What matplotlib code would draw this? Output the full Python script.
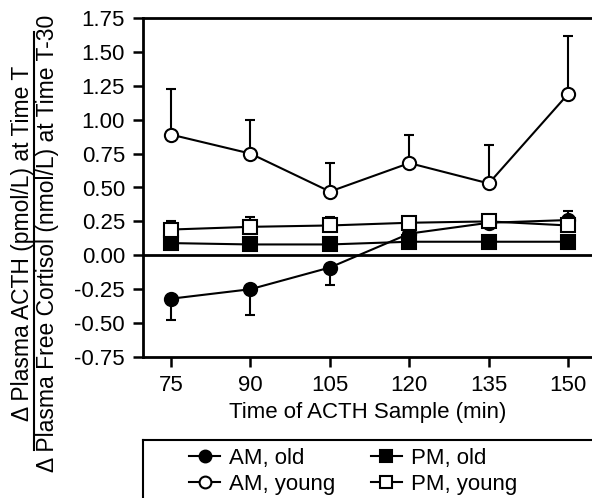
import matplotlib
matplotlib.use('Agg')
import matplotlib.pyplot as plt
from matplotlib.lines import Line2D

plt.rcParams['font.family'] = ['Liberation Sans', 'DejaVu Sans']
plt.rcParams['font.size'] = 16

# ── Data ──────────────────────────────────────────────────────
times = [75, 90, 105, 120, 135, 150]

am_old       = [-0.32, -0.25, -0.09, 0.16, 0.24, 0.26]
am_old_lo    = [0.16, 0.19, 0.13, 0.00, 0.00, 0.00]
am_old_hi    = [0.00, 0.00, 0.00, 0.03, 0.03, 0.07]

am_young     = [0.89, 0.75, 0.47, 0.68, 0.53, 1.19]
am_young_hi  = [0.34, 0.25, 0.21, 0.21, 0.28, 0.43]

pm_old       = [0.09, 0.08, 0.08, 0.10, 0.10, 0.10]
pm_old_hi    = [0.02, 0.02, 0.02, 0.02, 0.02, 0.02]

pm_young     = [0.19, 0.21, 0.22, 0.24, 0.25, 0.22]
pm_young_hi  = [0.06, 0.07, 0.06, 0.04, 0.02, 0.04]

yticks = [1.75, 1.50, 1.25, 1.00, 0.75, 0.50, 0.25, 0.00, -0.25, -0.50, -0.75]

W, H = 592, 498
fig = plt.figure(figsize=(W / 100, H / 100), dpi=100)
ax = fig.add_axes([143 / W, (H - 357) / H, 1 - 143 / W, (357 - 18) / H])

zero = [0] * len(times)
common = dict(color='black', lw=1.5, ms=9.5, mew=1.5, capsize=3.5,
              capthick=1.5, elinewidth=1.5)

ax.errorbar(times, am_old, yerr=[am_old_lo, am_old_hi], fmt='-o',
            mfc='black', zorder=3, **common)
ax.errorbar(times, am_young, yerr=[zero, am_young_hi], fmt='-o',
            mfc='white', zorder=3, **common)
ax.errorbar(times, pm_old, yerr=[zero, pm_old_hi], fmt='-s',
            mfc='black', zorder=4, **common)
ax.errorbar(times, pm_young, yerr=[zero, pm_young_hi], fmt='-s',
            mfc='white', zorder=5, **common)

ax.axhline(0, color='black', lw=2, zorder=2)

ax.set_xlim(69.7, 154.5)
ax.set_ylim(-0.75, 1.75)
ax.set_xticks(times)
ax.set_yticks(yticks)
ax.set_yticklabels([f'{v:.2f}' for v in yticks])
ax.spines['right'].set_visible(False)
for s in ['left', 'bottom', 'top']:
    ax.spines[s].set_linewidth(2)
ax.tick_params(direction='out', length=7, width=1.8, pad=6)
ax.set_xlabel('Time of ACTH Sample (min)', labelpad=4)

# y label as a fraction
fig.text(23 / W, 1 - 243 / H, '\u0394 Plasma ACTH (pmol/L) at Time T',
         rotation=90, ha='center', va='center', fontsize=16.5)
fig.text(47.5 / W, 1 - 243 / H, '\u0394 Plasma Free Cortisol (nmol/L) at Time T-30',
         rotation=90, ha='center', va='center', fontsize=16.5)
fig.add_artist(Line2D([33.5 / W, 33.5 / W], [1 - 32 / H, 1 - 450 / H],
                      color='black', lw=1.5, transform=fig.transFigure))

# legend box (cropped at right and bottom)
fig.add_artist(Line2D([143 / W, 1], [1 - 440 / H, 1 - 440 / H],
                      color='black', lw=1.5, transform=fig.transFigure))
fig.add_artist(Line2D([143 / W, 143 / W], [1 - 440 / H, 0],
                      color='black', lw=1.5, transform=fig.transFigure))

labels = ['AM, old', 'AM, young', 'PM, old', 'PM, young']
styles = [('o', 'black'), ('o', 'white'), ('s', 'black'), ('s', 'white')]
handles = [Line2D([], [], color='black', lw=1.5, marker=m, mfc=fc, mec='black',
                  mew=1.5, ms=8.5) for m, fc in styles]
fig.legend(handles, labels, ncol=2, loc='upper left',
           bbox_to_anchor=(178 / W, 1 - 437 / H), frameon=False,
           handlelength=1.4, handletextpad=0.4, columnspacing=1.6,
           labelspacing=0.23, borderpad=0)

fig.savefig('out.png', dpi=100)
